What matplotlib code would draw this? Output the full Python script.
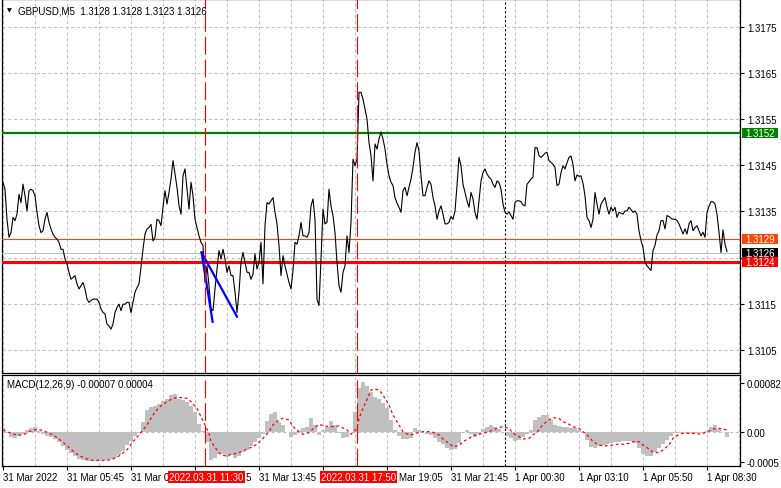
import numpy as np
import matplotlib
matplotlib.use("Agg")
import matplotlib.pyplot as plt
import matplotlib.transforms as mtransforms
from matplotlib.patches import Rectangle

plt.rcParams['font.family'] = ['Liberation Sans', 'DejaVu Sans']

# ---------------- data (M5 bars, bar 0 = 31 Mar 03:05) ----------------
close = [
    1.31413, 1.31398, 1.31333, 1.31294, 1.31304, 1.31337, 1.31330, 1.31344, 1.31387, 1.31369,
    1.31409, 1.31384, 1.31351, 1.31395, 1.31398, 1.31395, 1.31384, 1.31348, 1.31319, 1.31304,
    1.31308, 1.31333, 1.31348, 1.31326, 1.31312, 1.31301, 1.31294, 1.31290, 1.31283, 1.31268,
    1.31268, 1.31247, 1.31236, 1.31218, 1.31203, 1.31207, 1.31211, 1.31193, 1.31182, 1.31189,
    1.31196, 1.31182, 1.31160, 1.31153, 1.31157, 1.31160, 1.31160, 1.31160, 1.31153, 1.31139,
    1.31131, 1.31128, 1.31106, 1.31102, 1.31095, 1.31106, 1.31131, 1.31142, 1.31149, 1.31135,
    1.31149, 1.31149, 1.31153, 1.31153, 1.31131, 1.31153, 1.31175, 1.31185, 1.31193, 1.31229,
    1.31268, 1.31301, 1.31312, 1.31315, 1.31322, 1.31286, 1.31294, 1.31333, 1.31330, 1.31319,
    1.31359, 1.31395, 1.31366, 1.31391, 1.31420, 1.31460, 1.31431, 1.31402, 1.31362, 1.31344,
    1.31427, 1.31442, 1.31398, 1.31355, 1.31413, 1.31384, 1.31333, 1.31315, 1.31297, 1.31283,
    1.31276, 1.31196, 1.31232, 1.31189, 1.31139, 1.31135, 1.31182, 1.31225, 1.31265, 1.31247,
    1.31268, 1.31247, 1.31218, 1.31232, 1.31211, 1.31211, 1.31175, 1.31131, 1.31175, 1.31240,
    1.31261, 1.31240, 1.31218, 1.31218, 1.31203, 1.31214, 1.31258, 1.31225, 1.31240, 1.31283,
    1.31193, 1.31319, 1.31369, 1.31366, 1.31373, 1.31380, 1.31348, 1.31323, 1.31276, 1.31211,
    1.31254, 1.31232, 1.31214, 1.31196, 1.31182, 1.31222, 1.31283, 1.31279, 1.31297, 1.31326,
    1.31297, 1.31297, 1.31294, 1.31304, 1.31362, 1.31377, 1.31333, 1.31160, 1.31146, 1.31247,
    1.31355, 1.31323, 1.31326, 1.31398, 1.31362, 1.31341, 1.31304, 1.31240, 1.31189, 1.31175,
    1.31218, 1.31232, 1.31297, 1.31261, 1.31326, 1.31463, 1.31449, 1.31463, 1.31608, 1.31608,
    1.31593, 1.31572, 1.31550, 1.31499, 1.31471, 1.31416, 1.31496, 1.31485, 1.31507, 1.31522,
    1.31507, 1.31485, 1.31452, 1.31427, 1.31413, 1.31406, 1.31380, 1.31368, 1.31359, 1.31348,
    1.31395, 1.31402, 1.31384, 1.31402, 1.31420, 1.31445, 1.31478, 1.31499, 1.31481, 1.31427,
    1.31384, 1.31384, 1.31402, 1.31416, 1.31409, 1.31380, 1.31362, 1.31333, 1.31351, 1.31362,
    1.31344, 1.31323, 1.31323, 1.31326, 1.31339, 1.31333, 1.31351, 1.31406, 1.31467, 1.31449,
    1.31409, 1.31391, 1.31373, 1.31359, 1.31391, 1.31377, 1.31348, 1.31333, 1.31373, 1.31416,
    1.31434, 1.31442, 1.31431, 1.31424, 1.31420, 1.31409, 1.31402, 1.31416, 1.31413, 1.31398,
    1.31366, 1.31348, 1.31344, 1.31349, 1.31341, 1.31333, 1.31369, 1.31373, 1.31373, 1.31371,
    1.31364, 1.31362, 1.31409, 1.31414, 1.31420, 1.31424, 1.31488, 1.31488, 1.31471, 1.31467,
    1.31471, 1.31476, 1.31478, 1.31460, 1.31456, 1.31452, 1.31445, 1.31406, 1.31409, 1.31434,
    1.31449, 1.31442, 1.31455, 1.31467, 1.31470, 1.31452, 1.31416, 1.31429, 1.31426, 1.31427,
    1.31411, 1.31384, 1.31337, 1.31330, 1.31315, 1.31333, 1.31391, 1.31366, 1.31344, 1.31366,
    1.31373, 1.31380, 1.31359, 1.31344, 1.31359, 1.31351, 1.31359, 1.31337, 1.31348, 1.31346,
    1.31344, 1.31351, 1.31351, 1.31359, 1.31354, 1.31348, 1.31351, 1.31344, 1.31308, 1.31287,
    1.31272, 1.31240, 1.31232, 1.31227, 1.31222, 1.31265, 1.31276, 1.31299, 1.31308, 1.31330,
    1.31330, 1.31312, 1.31341, 1.31339, 1.31335, 1.31333, 1.31333, 1.31330, 1.31323, 1.31312,
    1.31301, 1.31312, 1.31301, 1.31323, 1.31330, 1.31308, 1.31315, 1.31319, 1.31308, 1.31297,
    1.31305, 1.31294, 1.31348, 1.31361, 1.31371, 1.31371, 1.31366, 1.31344, 1.31305, 1.31261,
    1.31310, 1.31279, 1.31263,
]

# MACD main line (histogram), sampled every second bar
macd_hist = [
    0.000066, -0.000017, -0.000083, -0.000100, -0.000055, -0.000033, 0.000039, 0.000066, 0.000083, 0.000022,
    -0.000033, -0.000061, -0.000083, -0.000111, -0.000155, -0.000227, -0.000299, -0.000348, -0.000393, -0.000442,
    -0.000459, -0.000476, -0.000476, -0.000476, -0.000476, -0.000465, -0.000459, -0.000448, -0.000426, -0.000376,
    -0.000310, -0.000210, -0.000144, -0.000061, -0.000011, 0.000177, 0.000376, 0.000420, 0.000431, 0.000465,
    0.000514, 0.000553, 0.000619, 0.000630, 0.000548, 0.000531, 0.000498, 0.000437, 0.000332, 0.000133,
    0.000022, -0.000155, -0.000459, -0.000420, -0.000354, -0.000365, -0.000404, -0.000376, -0.000431, -0.000387,
    -0.000332, -0.000293, -0.000227, -0.000155, -0.000089, -0.000022, 0.000188, 0.000299, 0.000332, 0.000166,
    0.000122, 0.000000, -0.000077, -0.000044, 0.000039, 0.000077, 0.000094, 0.000232, 0.000122, -0.000044,
    0.000033, 0.000094, 0.000188, 0.000122, -0.000017, -0.000100, -0.000077, 0.000011, 0.000343, 0.000730,
    0.000841, 0.000774, 0.000664, 0.000592, 0.000553, 0.000487, 0.000398, 0.000205, 0.000039, -0.000061,
    -0.000105, -0.000111, -0.000094, 0.000077, 0.000039, 0.000000, -0.000033, -0.000044, -0.000100, -0.000160,
    -0.000199, -0.000254, -0.000288, -0.000277, -0.000183, -0.000006, 0.000039, -0.000028, -0.000072, -0.000033,
    0.000050, 0.000083, 0.000122, 0.000094, 0.000050, 0.000000, -0.000055, -0.000100, -0.000144, -0.000122,
    -0.000083, -0.000028, 0.000039, 0.000205, 0.000249, 0.000282, 0.000288, 0.000205, 0.000122, 0.000105,
    0.000094, 0.000094, 0.000077, 0.000066, 0.000033, -0.000017, -0.000127, -0.000238, -0.000265, -0.000232,
    -0.000205, -0.000188, -0.000171, -0.000155, -0.000155, -0.000144, -0.000138, -0.000144, -0.000183, -0.000254,
    -0.000360, -0.000398, -0.000387, -0.000321, -0.000254, -0.000188, -0.000122, -0.000055, -0.000017, -0.000011,
    -0.000011, -0.000011, -0.000011, -0.000011, -0.000017, -0.000011, 0.000022, 0.000083, 0.000122, 0.000055,
    0.000000, -0.000072,
]

# MACD signal line (read at irregular bars)
signal_bars = [0, 4, 7, 10, 13, 17, 19, 22, 25, 28, 32, 35, 38, 42, 45, 48, 52, 55, 58, 62,
               65, 68, 72, 75, 78, 82, 85, 88, 92, 94, 97, 99, 101, 103, 104, 107, 109, 112, 114, 117,
               120, 123, 127, 130, 133, 135, 138, 140, 143, 145, 148, 150, 153, 155, 158, 160, 163, 165, 168, 172,
               174, 177, 178, 180, 183, 184, 186, 188, 190, 193, 195, 198, 200, 203, 205, 208, 210, 213, 215, 218,
               220, 223, 225, 228, 230, 233, 235, 238, 240, 243, 245, 248, 250, 253, 255, 258, 260, 263, 265, 268,
               270, 273, 275, 278, 280, 283, 285, 288, 290, 293, 295, 298, 300, 303, 305, 308, 310, 313, 315, 318,
               320, 323, 325, 328, 330, 333, 335, 338, 340, 343, 345, 348, 350, 353, 355, 358, 360, 362]
signal_vals = [0.000039, -0.000017, -0.000044, -0.000044, 0.000011, 0.000050, 0.000039, 0.000000, -0.000044, -0.000111,
               -0.000221, -0.000310, -0.000387, -0.000442, -0.000465, -0.000465, -0.000465, -0.000442, -0.000393, -0.000293,
               -0.000155, -0.000044, 0.000122, 0.000288, 0.000415, 0.000509, 0.000564, 0.000581, 0.000564, 0.000509,
               0.000398, 0.000260, 0.000122, -0.000017, -0.000155, -0.000293, -0.000376, -0.000393, -0.000365, -0.000348,
               -0.000310, -0.000265, -0.000199, -0.000100, 0.000011, 0.000122, 0.000205, 0.000232, 0.000205, 0.000094,
               0.000000, -0.000033, -0.000006, 0.000055, 0.000133, 0.000111, 0.000094, 0.000094, 0.000105, 0.000039,
               -0.000033, 0.000066, 0.000232, 0.000398, 0.000619, 0.000702, 0.000719, 0.000702, 0.000619, 0.000454,
               0.000288, 0.000122, 0.000011, -0.000044, -0.000033, 0.000000, 0.000011, 0.000011, 0.000000, -0.000044,
               -0.000111, -0.000183, -0.000238, -0.000221, -0.000155, -0.000100, -0.000055, -0.000033, -0.000017, 0.000011,
               0.000039, 0.000077, 0.000094, 0.000066, -0.000017, -0.000072, -0.000111, -0.000100, -0.000044, 0.000039,
               0.000133, 0.000205, 0.000243, 0.000232, 0.000177, 0.000133, 0.000094, 0.000066, 0.000011, -0.000072,
               -0.000155, -0.000210, -0.000227, -0.000221, -0.000210, -0.000194, -0.000199, -0.000183, -0.000155, -0.000155,
               -0.000210, -0.000277, -0.000332, -0.000337, -0.000293, -0.000210, -0.000100, -0.000033, -0.000017, -0.000017,
               -0.000017, -0.000028, -0.000017, 0.000022, 0.000055, 0.000066, 0.000055, 0.000039]

# horizontal levels
level_prices = [1.3152, 1.3129, 1.3126, 1.3124]
level_labels = ["1.3152", "1.3129", "1.3126", "1.3124"]

# trend lines (bar, price)
trend_a_bars = [99.3, 104.8]
trend_a_prices = [1.31261, 1.31111]
trend_b_bars = [99.3, 117.0]
trend_b_prices = [1.31261, 1.31122]

# vertical markers
marker_bars = [101, 177]
marker_labels = ["2022.03.31 11:30", "2022.03.31 17:50"]
day_separator_bar = 251.2

price_ticks = [1.3105, 1.3115, 1.3125, 1.3135, 1.3145, 1.3155, 1.3165, 1.3175]
price_tick_labels = ["1.3105", "1.3115", "", "1.3135", "1.3145", "1.3155", "1.3165", "1.3175"]
# time axis labels (those partly hidden behind the red time boxes are shown as fragments)
time_tick_labels = ["31 Mar 2022", "31 Mar 05:45", "31 Mar 0", "", "31 Mar 13:45",
                    "", "", "31 Mar 21:45", "1 Apr 00:30", "1 Apr 03:10",
                    "1 Apr 05:50", "1 Apr 08:30"]
fragment_texts = ["5", "Mar 19:05"]
fragment_bars = [121.5, 198.2]
macd_ticks = [-0.0005, 0.0, 0.00082]
macd_tick_labels = ["-0.0005", "0.00", "0.00082"]

title = "GBPUSD,M5  1.3128 1.3128 1.3123 1.3126"
macd_title = "MACD(12,26,9) -0.00007 0.00004"

# ---------------- figure ----------------
W, H = 781, 489
fig = plt.figure(figsize=(W / 100, H / 100), dpi=100)
fig.patch.set_facecolor('white')
ax = fig.add_axes([2 / W, 115 / H, 738 / W, 374 / H])
ax2 = fig.add_axes([2 / W, 22 / H, 738 / W, 91 / H])

GRID = '#c0c0c0'
grid_kw = dict(color=GRID, linewidth=0.75, linestyle=(0, (3, 2.5)))
FS = 7

bars = np.arange(len(close))
xmin, xmax = -0.5, 368.5
major_x = np.arange(0, len(close), 32)
minor_x = np.arange(16, len(close) + 16, 32)

for a in (ax, ax2):
    a.set_xlim(xmin, xmax)
    a.set_xticks(major_x)
    a.set_xticks(minor_x, minor=True)
    a.grid(True, axis='x', which='both', **grid_kw)
    a.set_axisbelow(True)
    for s in a.spines.values():
        s.set_color('black')
        s.set_linewidth(0.9)
    a.tick_params(axis='x', which='minor', length=0)

# main panel
ax.set_ylim(1.31000, 1.31810)
ax.set_yticks(price_ticks)
ax.set_yticklabels(price_tick_labels)
ax.yaxis.tick_right()
ax.grid(True, axis='y', **grid_kw)
ax.tick_params(axis='y', direction='out', length=3, width=0.8, pad=2, labelsize=FS)
ax.tick_params(axis='x', which='major', length=0, labelbottom=False)

ax.plot(bars, close, color='black', linewidth=0.8, zorder=4)

level_colors = ['#008000', '#ff4500', '#c0c0c0', '#ff0000']
level_widths = [1.6, 0.8, 0.8, 2.2]
for p, c, w in zip(level_prices, level_colors, level_widths):
    ax.axhline(p, color=c, linewidth=w, zorder=3)

ax.plot(trend_a_bars, trend_a_prices, color='#0000ff', linewidth=1.6, zorder=5)
ax.plot(trend_b_bars, trend_b_prices, color='#0000ff', linewidth=1.6, zorder=5)

for a in (ax, ax2):
    for b in marker_bars:
        a.axvline(b, color='#ff0000', linewidth=0.8, linestyle=(0, (16, 4.5)), zorder=6)
    a.axvline(day_separator_bar, color='black', linewidth=0.8, linestyle=(0, (2, 2)), zorder=6)

# price boxes on the right axis
trans = mtransforms.blended_transform_factory(ax.transAxes, ax.transData)
box_colors = ['#008000', '#ff4500', '#000000', '#ff0000']
box_h = 9.6 / 374 * (1.31810 - 1.31000)
box_x0 = 1.0 + 1.5 / 738
box_w = 36.5 / 738
for p, lab, c in zip(level_prices, level_labels, box_colors):
    ax.add_patch(Rectangle((box_x0, p - box_h / 2), box_w, box_h, transform=trans,
                           facecolor=c, edgecolor='none', clip_on=False, zorder=10))
    ax.text(box_x0 + box_w / 2, p, lab, transform=trans, color='white', fontsize=FS,
            ha='center', va='center', clip_on=False, zorder=11)

# MACD panel
ax2.set_ylim(-0.000559, 0.000951)
hist_bars = np.arange(0, len(close), 2)[:len(macd_hist)]
ax2.bar(hist_bars, macd_hist, width=2.0, color='#c0c0c0', linewidth=0, zorder=2)
ax2.axhline(0.0, **grid_kw, zorder=1)
ax2.plot(signal_bars, signal_vals, color='#ff0000', linewidth=0.9,
         linestyle=(0, (2.2, 2.2)), zorder=4)
ax2.yaxis.tick_right()
ax2.set_yticks(macd_ticks)
ax2.set_yticklabels(macd_tick_labels)
ax2.tick_params(axis='y', direction='out', length=3, width=0.8, pad=2, labelsize=FS)
ax2.tick_params(axis='x', which='major', direction='out', length=3, width=0.8, pad=1.5,
                labelsize=FS)
ax2.set_xticklabels(time_tick_labels)
for lbl in ax2.get_xticklabels():
    lbl.set_horizontalalignment('left')

for b, t in zip(fragment_bars, fragment_texts):
    ax2.annotate(t, xy=(b, 0), xycoords=('data', 'axes fraction'),
                 xytext=(0, -11), textcoords='offset pixels', ha='left', va='center',
                 fontsize=FS, color='black', annotation_clip=False)

# red time boxes
for b, lab in zip(marker_bars, marker_labels):
    ax2.annotate(lab, xy=(b + 0.8, 0), xycoords=('data', 'axes fraction'),
                 xytext=(0, -11), textcoords='offset pixels', ha='center', va='center',
                 fontsize=FS, color='white', annotation_clip=False, zorder=12,
                 bbox=dict(boxstyle='square,pad=0.12', facecolor='#ff0000', edgecolor='none'))

# titles
fig.text(9 / W, 1 - 11 / H, '\u25bc', fontsize=4.5, family='DejaVu Sans', ha='center', va='center')
fig.text(18 / W, 1 - 11 / H, title, fontsize=FS, ha='left', va='center')
fig.text(7 / W, 1 - 385 / H, macd_title, fontsize=FS, ha='left', va='center')

fig.savefig('out.png', dpi=100, facecolor='white')
